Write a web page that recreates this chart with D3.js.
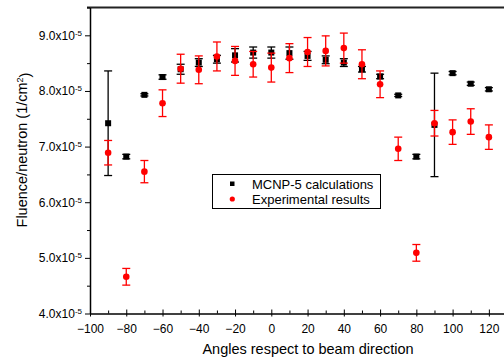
<!DOCTYPE html>
<html>
<head>
<meta charset="utf-8">
<script src="https://cdn.jsdelivr.net/npm/d3@7"></script>
<style>
  body { margin: 0; background: #fff; }
  svg { font-family: "Liberation Sans", Arial, sans-serif; }
</style>
</head>
<body>
<div id="okvir"></div>
<script>
// values in units of 1e-5 (1/cm^2 per neutron)
const angles = [-90, -80, -70, -60, -50, -40, -30, -20, -10, 0, 10, 20, 30, 40, 50, 60, 70, 80, 90, 100, 110, 120];
const mcnp = [7.42, 6.82, 7.93, 8.25, 8.39, 8.51, 8.57, 8.64, 8.69, 8.69, 8.68, 8.63, 8.56, 8.51, 8.39, 8.26, 7.92, 6.82, 7.39, 8.32, 8.13, 8.03];
const mcnpErr = [0.94, 0.04, 0.02, 0.04, 0.09, 0.07, 0.07, 0.12, 0.10, 0.10, 0.11, 0.08, 0.07, 0.07, 0.05, 0.04, 0.02, 0.04, 0.93, 0.03, 0.03, 0.03];
const experiment = [6.89, 4.66, 6.55, 7.78, 8.40, 8.38, 8.62, 8.54, 8.48, 8.42, 8.59, 8.70, 8.72, 8.77, 8.48, 8.12, 6.96, 5.09, 7.42, 7.26, 7.45, 7.17];
const experimentErr = [0.22, 0.15, 0.20, 0.24, 0.26, 0.25, 0.26, 0.26, 0.23, 0.26, 0.26, 0.26, 0.27, 0.27, 0.26, 0.24, 0.21, 0.15, 0.23, 0.22, 0.23, 0.22];
const xTicks = [-100, -80, -60, -40, -20, 0, 20, 40, 60, 80, 100, 120];
const yTicks = [4, 5, 6, 7, 8, 9];
const seriesNames = ["MCNP-5 calculations", "Experimental results"];

var width = 504, height = 360;

var svg = d3.select("#okvir").append("svg")
    .attr("width", width)
    .attr("height", height);

var x = d3.scaleLinear().domain([-100, 130]).range([90, 507]);
var y = d3.scaleLinear().domain([4, 9.5]).range([313.5, 7.5]);

// top frame line
svg.append("line")
    .attr("x1", 87).attr("x2", 504)
    .attr("y1", y(9.5)).attr("y2", y(9.5))
    .attr("stroke", "#222").attr("stroke-width", 2);

// minor ticks x
svg.append("g")
    .attr("transform", "translate(0," + y(4) + ")")
    .call(d3.axisBottom(x).tickValues(d3.range(-90, 130, 20)).tickSize(-3).tickFormat(""))
    .call(g => g.select(".domain").remove());

// x axis
svg.append("g")
    .attr("transform", "translate(0," + y(4) + ")")
    .call(d3.axisBottom(x).tickValues(xTicks).tickSizeInner(3).tickSizeOuter(0).tickPadding(8))
    .call(g => g.select(".domain").attr("stroke-width", 1.5))
    .call(g => g.selectAll(".tick line").attr("y1", -4))
    .selectAll("text")
    .style("font-size", "12px")
    .style("font-family", "Liberation Sans, Arial, sans-serif");

// minor ticks y
svg.append("g")
    .attr("transform", "translate(90,0)")
    .call(d3.axisLeft(y).tickValues([4.5, 5.5, 6.5, 7.5, 8.5, 9.5]).tickSize(3).tickFormat(""))
    .call(g => g.select(".domain").remove());

// y axis
var yAxis = svg.append("g")
    .attr("transform", "translate(90,0)")
    .call(d3.axisLeft(y).tickValues(yTicks).tickSizeInner(5).tickSizeOuter(0).tickPadding(3))
    .call(g => g.select(".domain").attr("stroke-width", 1.5));

yAxis.selectAll(".tick text")
    .style("font-size", "12px")
    .style("font-family", "Liberation Sans, Arial, sans-serif")
    .each(function(d) {
        var t = d3.select(this).text(null);
        t.append("tspan").text(d3.format(".1f")(d) + "x10");
        t.append("tspan").attr("dy", "-0.5em").style("font-size", "8px").text("-5");
    });

// error bars + markers
function drawSeries(values, errs, color, shape) {
    var g = svg.append("g");
    var rows = angles.map((a, i) => ({ a: a, v: values[i], e: errs[i] }));
    var bars = g.selectAll(".eb").data(rows).enter().append("g").attr("stroke", color).attr("stroke-width", 1.3);
    bars.append("line")
        .attr("x1", d => x(d.a)).attr("x2", d => x(d.a))
        .attr("y1", d => y(d.v + d.e)).attr("y2", d => y(d.v - d.e));
    bars.append("line")
        .attr("x1", d => x(d.a) - 4).attr("x2", d => x(d.a) + 4)
        .attr("y1", d => y(d.v + d.e)).attr("y2", d => y(d.v + d.e));
    bars.append("line")
        .attr("x1", d => x(d.a) - 4).attr("x2", d => x(d.a) + 4)
        .attr("y1", d => y(d.v - d.e)).attr("y2", d => y(d.v - d.e));
    if (shape === "square") {
        g.selectAll(".pt").data(rows).enter().append("rect")
            .attr("x", d => x(d.a) - 3).attr("y", d => y(d.v) - 3)
            .attr("width", 6).attr("height", 6)
            .attr("fill", color);
    } else {
        g.selectAll(".pt").data(rows).enter().append("circle")
            .attr("cx", d => x(d.a)).attr("cy", d => y(d.v))
            .attr("r", 3.3)
            .attr("fill", color);
    }
}
drawSeries(mcnp, mcnpErr, "#000", "square");
drawSeries(experiment, experimentErr, "#ff0000", "circle");

// legend
var legend = svg.append("g");
legend.append("rect")
    .attr("x", 212.5).attr("y", 174.5).attr("width", 168).attr("height", 34)
    .attr("fill", "#fff").attr("stroke", "#000").attr("stroke-width", 1);
legend.append("rect").attr("x", 230).attr("y", 181.5).attr("width", 4.5).attr("height", 4.5).attr("fill", "#000");
legend.append("circle").attr("cx", 232.3).attr("cy", 199).attr("r", 2.6).attr("fill", "#ff0000");
legend.selectAll(".lt").data(seriesNames).enter().append("text")
    .attr("x", 252)
    .attr("y", (d, i) => 188.5 + i * 15)
    .style("font-size", "13px")
    .text(d => d);

// axis titles
svg.append("text")
    .attr("x", 308).attr("y", 354)
    .attr("text-anchor", "middle")
    .style("font-size", "14.5px")
    .text("Angles respect to beam direction");

var yl = svg.append("text")
    .attr("transform", "translate(27,150) rotate(-90)")
    .attr("text-anchor", "middle")
    .style("font-size", "14.5px");
yl.append("tspan").text("Fluence/neutron (1/cm");
yl.append("tspan").attr("dy", "-0.5em").style("font-size", "9px").text("2");
yl.append("tspan").attr("dy", "0.5em").text(")");
</script>
</body>
</html>
